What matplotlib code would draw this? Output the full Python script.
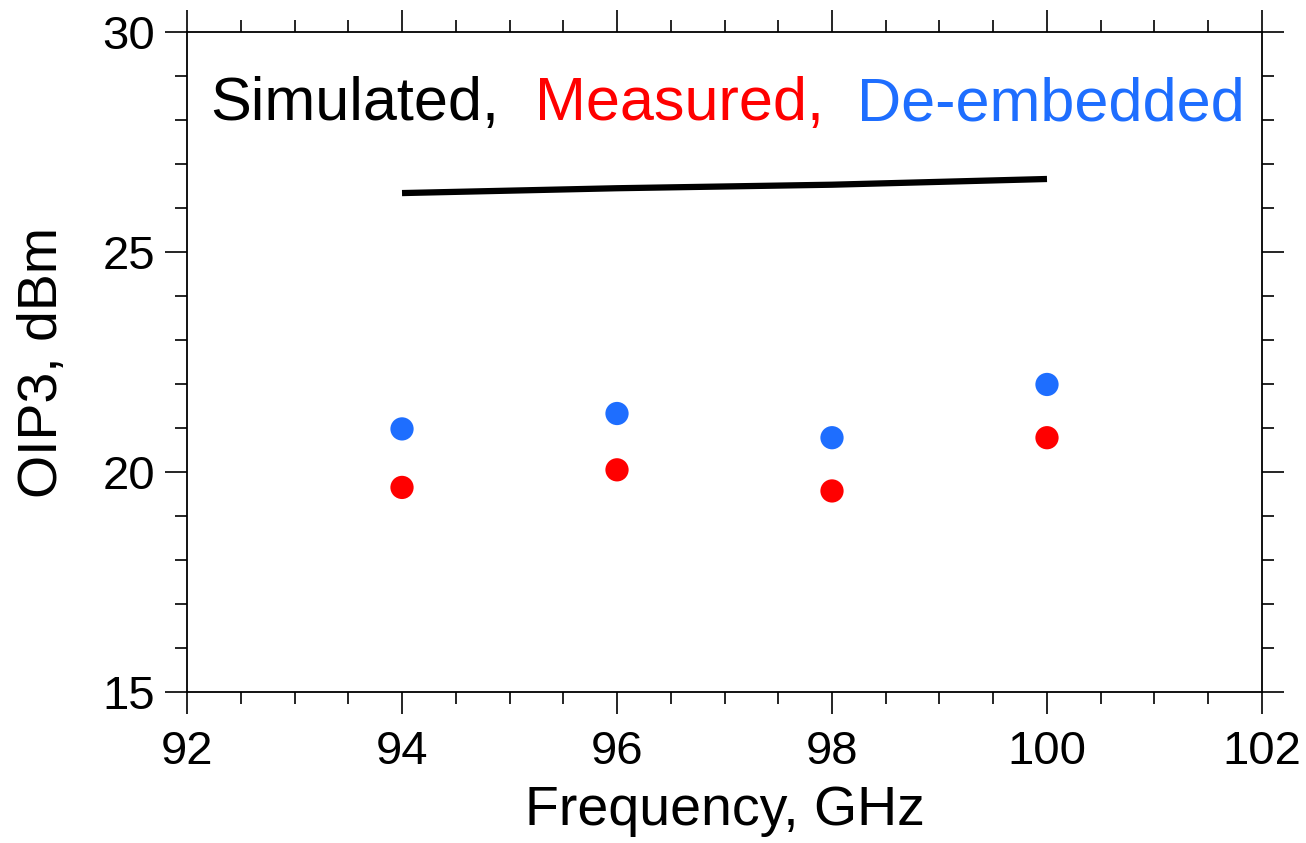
import numpy as np
import matplotlib.pyplot as plt
from matplotlib.ticker import MultipleLocator

plt.rcParams['font.family'] = ['Liberation Sans', 'DejaVu Sans']

# data
freq = [94, 96, 98, 100]
simulated = [26.34, 26.45, 26.53, 26.66]
measured = [19.65, 20.05, 19.57, 20.78]
deembedded = [20.98, 21.33, 20.78, 21.99]

blue = '#1E6EFF'
red = '#FF0000'

fig = plt.figure(figsize=(13.06, 8.43), dpi=100)
ax = fig.add_axes([0.1432, 0.1791, 0.8231, 0.7829])

ax.plot(freq, simulated, color='black', lw=4.5, solid_capstyle='butt')
ax.scatter(freq, measured, s=280, color=red, edgecolors='none', zorder=3)
ax.scatter(freq, deembedded, s=280, color=blue, edgecolors='none', zorder=3)

ax.set_xlim(92, 102)
ax.set_ylim(15, 30)
ax.xaxis.set_major_locator(MultipleLocator(2))
ax.xaxis.set_minor_locator(MultipleLocator(0.5))
ax.yaxis.set_major_locator(MultipleLocator(5))
ax.yaxis.set_minor_locator(MultipleLocator(1))

ax.tick_params(which='both', direction='out', top=True, right=True,
               width=1.2, labelsize=34)
ax.tick_params(which='major', length=16)
ax.tick_params(which='minor', length=8.5)
ax.tick_params(axis='x', which='both', labeltop=False, pad=11)
ax.tick_params(axis='y', which='both', labelright=False, pad=7)
for s in ax.spines.values():
    s.set_linewidth(1.3)

ax.set_xlabel('Frequency, GHz', fontsize=40, labelpad=8)
ax.set_ylabel('OIP3, dBm', fontsize=40, labelpad=24)

ty = 0.8667
ax.text(0.0214, ty, 'Simulated,', color='black', fontsize=44,
        transform=ax.transAxes, va='baseline')
ax.text(0.3237, ty, 'Measured,', color=red, fontsize=44,
        transform=ax.transAxes, va='baseline')
ax.text(0.6233, ty, 'De-embedded', color=blue, fontsize=44,
        transform=ax.transAxes, va='baseline')

fig.savefig('out.png', dpi=100)
